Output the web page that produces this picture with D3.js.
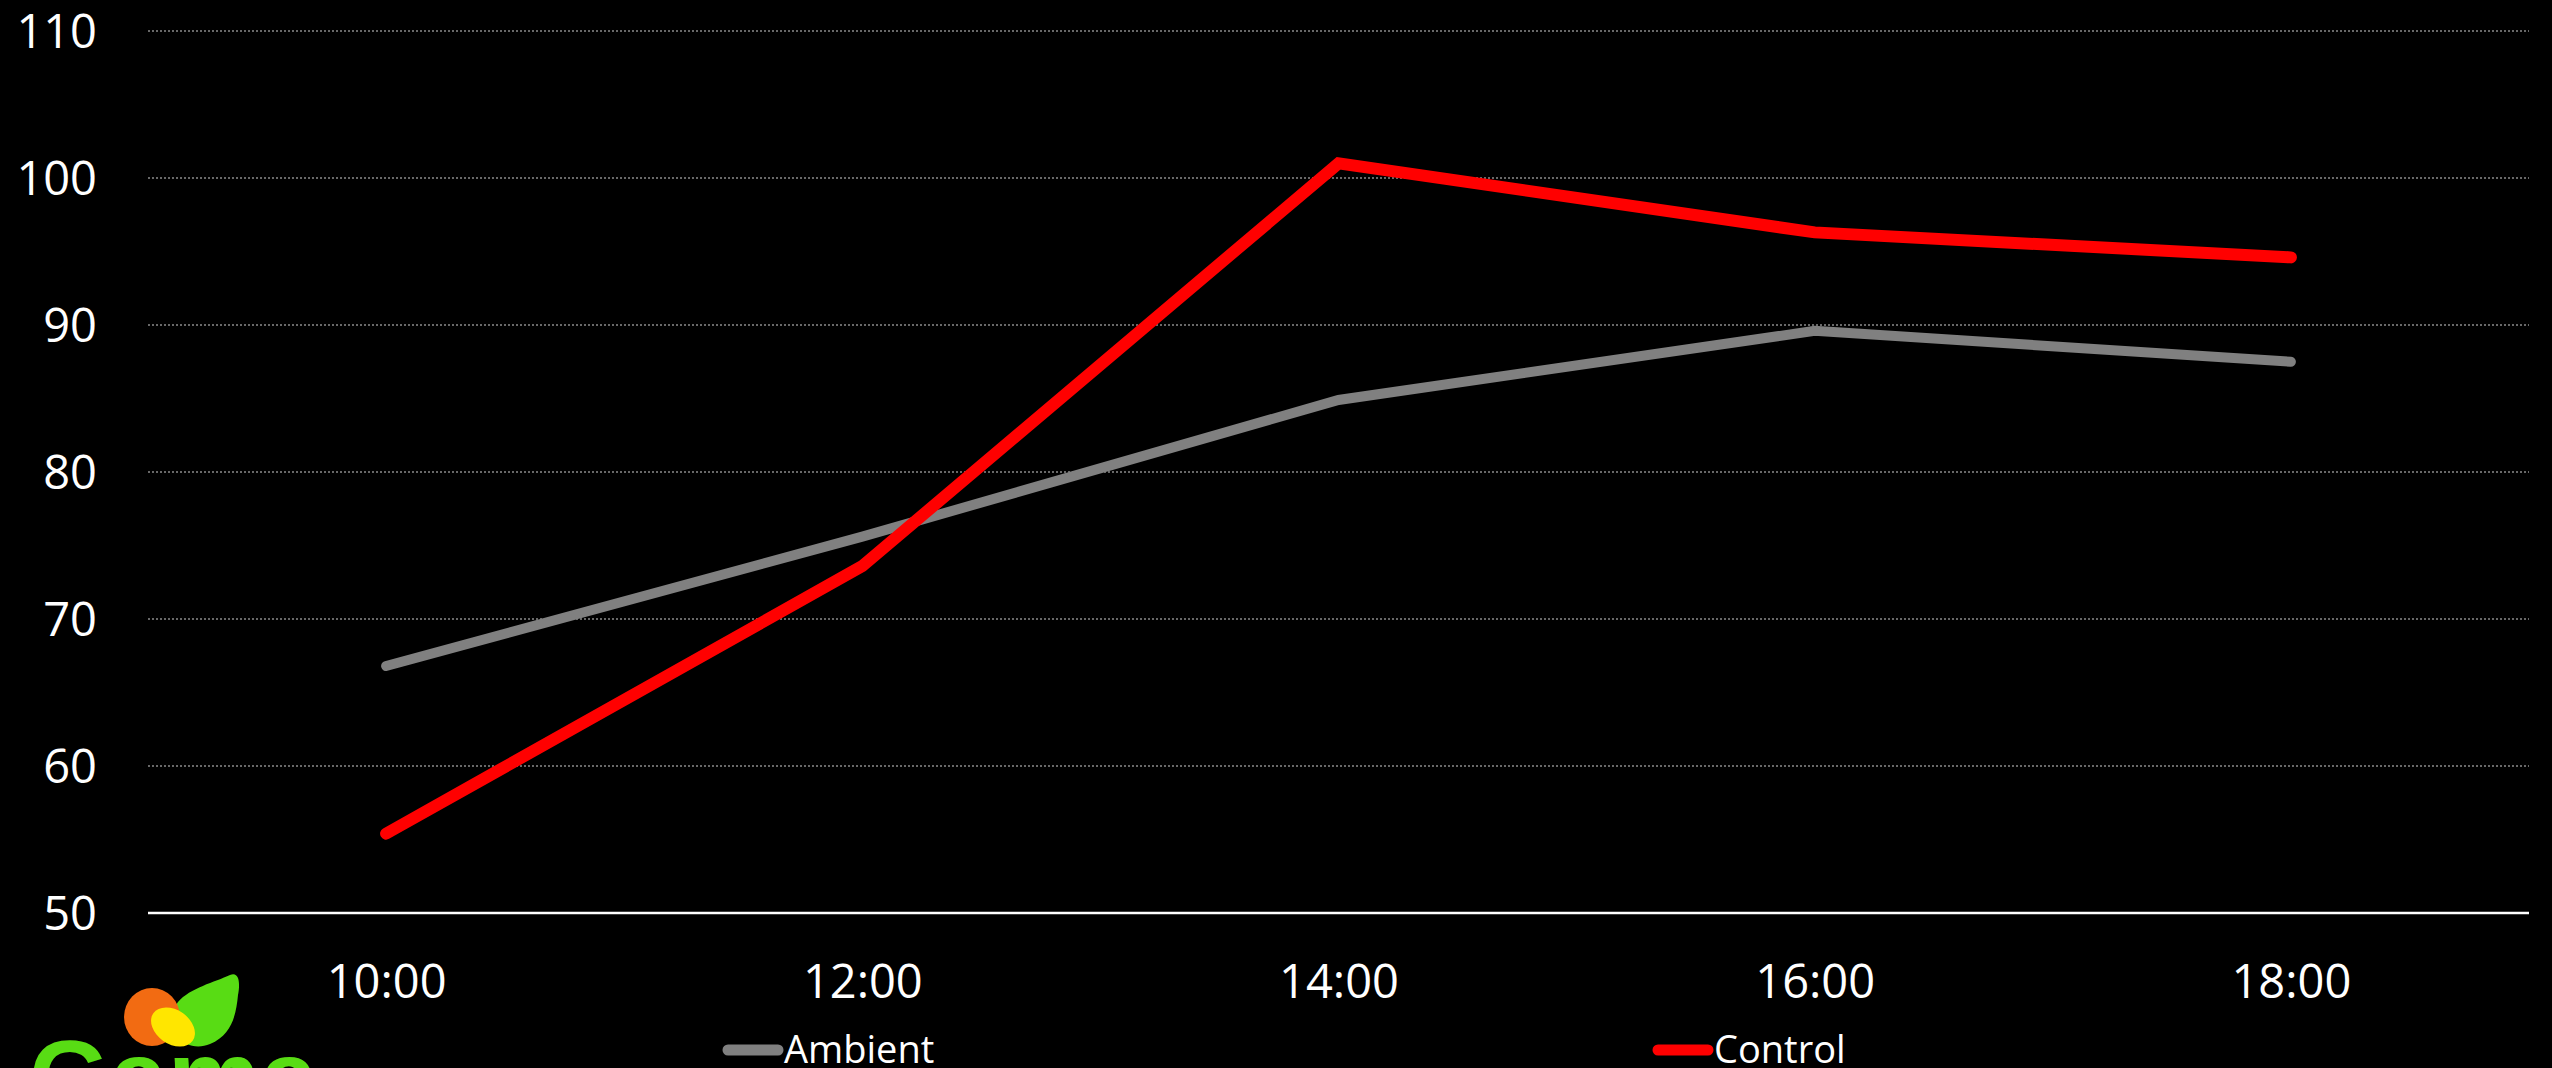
<!DOCTYPE html>
<html>
<head>
<meta charset="utf-8">
<script src="https://cdn.jsdelivr.net/npm/d3@7"></script>
<style>
  html, body { margin: 0; padding: 0; background: #000; overflow: hidden; }
  svg { display: block; }
</style>
</head>
<body>
<svg id="chart" width="2552" height="1068"></svg>
<script>
// Readings taken every two hours
const times = ["10:00", "12:00", "14:00", "16:00", "18:00"];
const ambient = [66.8, 75.6, 84.9, 89.6, 87.5];
const control = [55.4, 73.6, 101.0, 96.3, 94.6];
const yTicks = [50, 60, 70, 80, 90, 100, 110];
const seriesNames = ["Ambient", "Control"];
const seriesColors = ["#808080", "#ff0000"];

const W = 2552, H = 1068;
const plot = { left: 148, right: 2529, top: 31, bottom: 913 };
const font = "'Open Sans', 'Noto Sans', sans-serif";

const svg = d3.select("#chart");
svg.append("rect").attr("width", W).attr("height", H).attr("fill", "#000");

const x = d3.scalePoint().domain(times).range([plot.left, plot.right]).padding(0.5);
const y = d3.scaleLinear().domain([50, 110]).range([plot.bottom, plot.top]);

// Dotted horizontal gridlines
svg.append("g")
  .selectAll("line")
  .data(yTicks.filter(d => d > 50))
  .join("line")
  .attr("x1", plot.left).attr("x2", plot.right)
  .attr("y1", d => y(d)).attr("y2", d => y(d))
  .attr("stroke", "#8a8a8a")
  .attr("stroke-width", 1.5)
  .attr("stroke-dasharray", "2,2");

// Y axis labels
const yAxis = svg.append("g")
  .attr("transform", `translate(${plot.left},0)`)
  .call(d3.axisLeft(y).tickValues(yTicks).tickSize(0).tickPadding(51).tickFormat(d3.format("d")));
yAxis.select(".domain").remove();
yAxis.selectAll("text")
  .attr("fill", "#fff")
  .attr("font-family", font)
  .attr("font-size", 47)
  .attr("dy", "0.36em");

// X axis (baseline at 50)
const xAxis = svg.append("g")
  .attr("transform", `translate(0,${plot.bottom})`)
  .call(d3.axisBottom(x).tickSize(0));
xAxis.select(".domain").remove();
xAxis.append("line")
  .attr("x1", plot.left).attr("x2", plot.right)
  .attr("y1", 0).attr("y2", 0)
  .attr("stroke", "#fff").attr("stroke-width", 2.5);
xAxis.selectAll("text")
  .attr("fill", "#fff")
  .attr("font-family", font)
  .attr("font-size", 47)
  .attr("y", 85)
  .attr("dy", 0);

// Series lines
const line = d3.line().x((d, i) => x(times[i])).y(d => y(d));
const series = [ambient, control];
const widths = [10, 12];
series.forEach((vals, k) => {
  svg.append("path")
    .datum(vals)
    .attr("d", line)
    .attr("fill", "none")
    .attr("stroke", seriesColors[k])
    .attr("stroke-width", widths[k])
    .attr("stroke-linecap", "round")
    .attr("stroke-linejoin", "miter");
});

// Legend
const legendX = [723, 1653];
const legend = svg.append("g");
seriesNames.forEach((name, k) => {
  const g = legend.append("g").attr("transform", `translate(${legendX[k]},1050)`);
  g.append("line")
    .attr("x1", 5).attr("x2", 55).attr("y1", 0).attr("y2", 0)
    .attr("stroke", seriesColors[k]).attr("stroke-width", 11)
    .attr("stroke-linecap", "round");
  g.append("text")
    .attr("x", 61).attr("y", 13)
    .attr("fill", "#fff")
    .attr("font-family", font)
    .attr("font-size", 38)
    .text(name);
});

// Gama logo, bottom left
const logo = svg.append("g");
logo.append("path")
  .attr("d", "M178,1002 C190,988 215,982 230,975 C240,971 240,985 238,995 C236,1015 232,1035 210,1044 C198,1049 184,1046 178,1036 C172,1025 170,1012 178,1002 Z")
  .attr("fill", "#58dc14");
logo.append("ellipse")
  .attr("cx", 152).attr("cy", 1017).attr("rx", 28).attr("ry", 29)
  .attr("fill", "#f26b12");
logo.append("ellipse")
  .attr("cx", 0).attr("cy", 0).attr("rx", 24).attr("ry", 17)
  .attr("transform", "translate(173,1027) rotate(35)")
  .attr("fill", "#ffe600");
logo.append("text")
  .attr("x", 29).attr("y", 1113)
  .attr("fill", "#58dc14")
  .attr("font-family", "'Liberation Sans', Arial, sans-serif")
  .attr("font-weight", "bold")
  .attr("font-size", 104)
  .text("Gama");
</script>
</body>
</html>
